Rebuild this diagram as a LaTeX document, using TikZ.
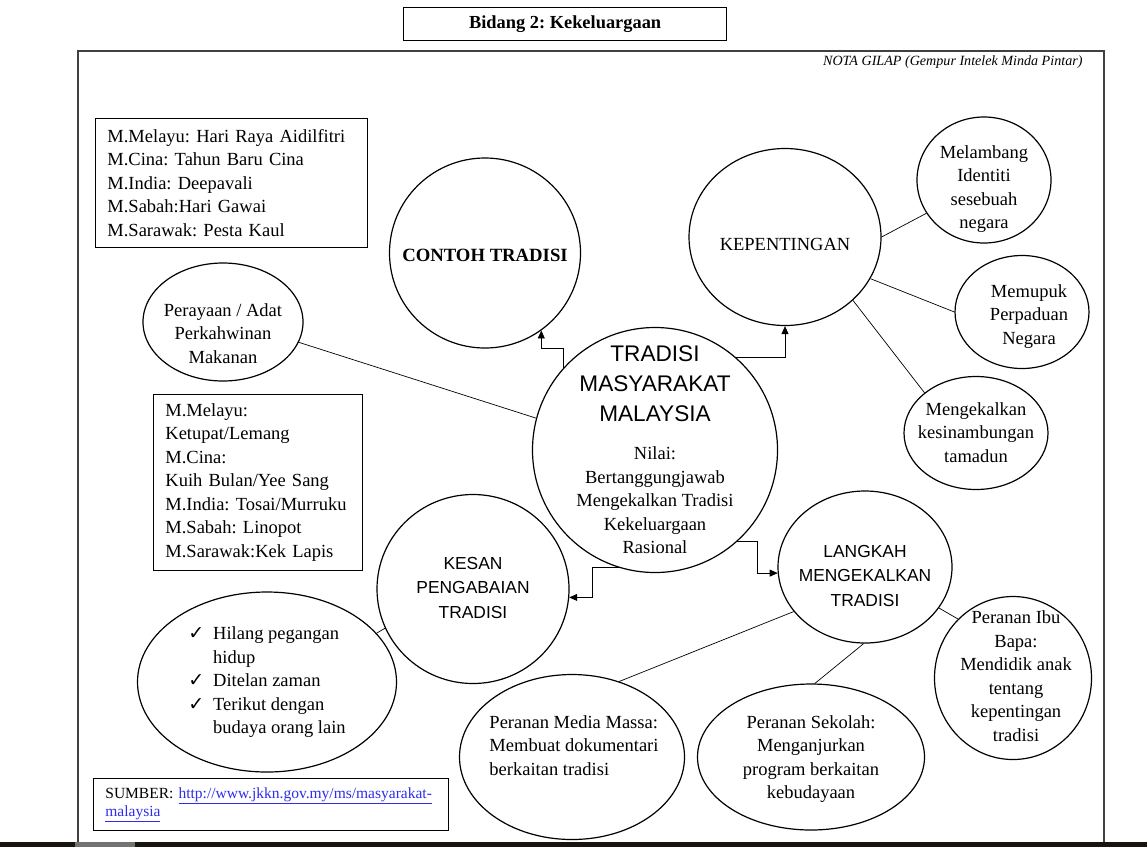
\documentclass[tikz,border=0pt]{standalone}
\usepackage{fontspec}
\setmainfont{Liberation Serif}
\setsansfont{Liberation Sans}
\newfontfamily\tickfont{DejaVu Sans}
\usetikzlibrary{shapes.geometric,arrows.meta}
\definecolor{linkblue}{RGB}{45,45,235}
\definecolor{barcolor}{RGB}{24,20,16}
\frenchspacing
\newcommand{\tick}{{\tickfont\fontsize{19}{19}\selectfont ✓}}
\newcommand{\weblink}[1]{\textcolor{linkblue}{\underline{#1}}}
\newcommand{\capsline}[1]{{\sffamily\fontsize{22.6}{30}\selectfont #1}}
\newcommand{\bubbletext}[3]{\makebox[0pt]{\raisebox{\dimexpr-4.25pt-(#1pt)\relax}[0pt][0pt]{\begin{tabular}{@{}#2@{}}#3\end{tabular}}}}

\begin{document}
\begin{tikzpicture}
    [
    x = 1pt, y = -1pt,
    every node/.style = {font=\fontsize{18.5}{23.5}\selectfont},
    ]
    \tikzstyle{bubble node}=[ellipse,draw,line width=1.2pt,inner sep=0pt]
    \tikzstyle{caps node}=[bubble node,font=\sffamily\fontsize{17.4}{24.5}\selectfont]
    \tikzstyle{list node}=[rectangle,draw,line width=0.8pt,anchor=north west,align=left,inner xsep=12pt]
    \tikzstyle{thin line}=[line width=0.7pt]
    \tikzstyle{flow arrow}=[thin line,-{Triangle[length=8pt,width=7pt]}]

    \useasboundingbox (0,0) rectangle (1147,847);
    \fill[barcolor] (0,842) rectangle (1147,847);
    \fill[black!55] (75,842) rectangle (135,847);
    \draw[line width=2pt,black!75] (78,842) -- (78,51) -- (1104,51) -- (1104,842);

    \node[rectangle,draw,line width=1.2pt,anchor=north west,minimum width=323,minimum height=33,font=\bfseries\fontsize{18.4}{20}\selectfont] (title) at (403,7) {Bidang 2: Kekeluargaan};
    \node[anchor=east,font=\itshape\fontsize{14.1}{15}\selectfont] (nota) at (1086,62) {NOTA GILAP (Gempur Intelek Minda Pintar)};

    \node[list node,text width=248,minimum height=129] (sambutan) at (95,118)
        {M.Melayu: Hari Raya Aidilfitri\\M.Cina: Tahun Baru Cina\\M.India: Deepavali\\M.Sabah:Hari Gawai\\M.Sarawak: Pesta Kaul};
    \node[list node,text width=185,minimum height=176] (makanan) at (153,394)
        {M.Melayu:\\Ketupat/Lemang\\M.Cina:\\Kuih Bulan/Yee Sang\\M.India: Tosai/Murruku\\M.Sabah: Linopot\\M.Sarawak:Kek Lapis};
    \node[list node,text width=331,minimum height=52,font=\fontsize{15.5}{18}\selectfont] (sumber) at (93,778)
        {SUMBER: \weblink{http://www.jkkn.gov.my/ms/masyarakat-}\\\weblink{malaysia}};

    \node[bubble node,minimum width=245,minimum height=245] (tradisi) at (655,450)
        {\bubbletext{3}{c}{\capsline{TRADISI}\\[6.5pt]\capsline{MASYARAKAT}\\[6.5pt]\capsline{MALAYSIA}\\[15pt]
        Nilai:\\Bertanggungjawab\\Mengekalkan Tradisi\\Kekeluargaan\\Rasional}};
    \node[bubble node,minimum width=191,minimum height=190,font=\bfseries\fontsize{18.7}{23.5}\selectfont] (contoh) at (485,253)
        {\bubbletext{4}{c}{CONTOH TRADISI}};
    \node[bubble node,minimum width=160,minimum height=118] (adat) at (223,322)
        {\bubbletext{13}{c}{Perayaan / Adat\\Perkahwinan\\Makanan}};
    \node[bubble node,minimum width=192,minimum height=177] (kepentingan) at (785,237)
        {\bubbletext{9}{c}{KEPENTINGAN}};
    \node[bubble node,minimum width=134,minimum height=126] (identiti) at (984,180)
        {\bubbletext{9}{c}{Melambang\\Identiti\\sesebuah\\negara}};
    \node[bubble node,minimum width=134,minimum height=113] (perpaduan) at (1022,312)
        {\bubbletext{4}{c}{\hspace{14pt}Memupuk\\\hspace{14pt}Perpaduan\\\hspace{14pt}Negara}};
    \node[bubble node,minimum width=144,minimum height=113] (tamadun) at (976,433)
        {\bubbletext{1}{c}{Mengekalkan\\kesinambungan\\tamadun}};
    \node[caps node,minimum width=192,minimum height=189] (kesan) at (473,589)
        {\bubbletext{0}{c}{KESAN\\PENGABAIAN\\TRADISI}};
    \node[caps node,minimum width=174,minimum height=152] (langkah) at (865,567)
        {\bubbletext{10}{c}{LANGKAH\\MENGEKALKAN\\TRADISI}};
    \node[bubble node,minimum width=259,minimum height=180] (kesannya) at (267,682)
        {\bubbletext{0}{l@{\hspace{9pt}}l}{\tick & Hilang pegangan\\ & hidup\\\tick & Ditelan zaman\\\tick & Terikut dengan\\ & budaya orang lain\hspace{6pt}}};
    \node[bubble node,minimum width=225,minimum height=165] (media) at (572,757)
        {\bubbletext{-10}{l}{\hspace{4pt}Peranan Media Massa:\\\hspace{4pt}Membuat dokumentari\\\hspace{4pt}berkaitan tradisi}};
    \node[bubble node,minimum width=227,minimum height=146] (sekolah) at (811,757)
        {\bubbletext{2}{c}{Peranan Sekolah:\\Menganjurkan\\program berkaitan\\kebudayaan}};
    \node[bubble node,minimum width=157,minimum height=163] (ibubapa) at (1013,678)
        {\bubbletext{0}{c}{\hspace{6pt}Peranan Ibu\\\hspace{6pt}Bapa:\\\hspace{6pt}Mendidik anak\\\hspace{6pt}tentang\\\hspace{6pt}kepentingan\\\hspace{6pt}tradisi}};

    \draw[flow arrow] (tradisi.138) -- ++(0,-19) -| (contoh.-54);
    \draw[flow arrow] (tradisi.49) -| (kepentingan.south);
    \draw[flow arrow] (tradisi.253) -- ++(-27,0) |- (kesan.-5);
    \draw[flow arrow] (tradisi.-48) -- ++(20,0) |- (langkah.184);

    \draw[thin line] (adat.-15) -- (tradisi.165);
    \draw[thin line] (kepentingan.0) -- (identiti.210);
    \draw[thin line] (kepentingan.-26) -- (perpaduan.180);
    \draw[thin line] (kepentingan.-43) -- (tamadun.142);
    \draw[thin line] (kesannya.24) -- (kesan.204);
    \draw[thin line] (langkah.212) -- (media.58);
    \draw[thin line] (langkah.-91) -- (sekolah.87);
    \draw[thin line] (langkah.-29) -- (ibubapa.133);
\end{tikzpicture}
\end{document}
